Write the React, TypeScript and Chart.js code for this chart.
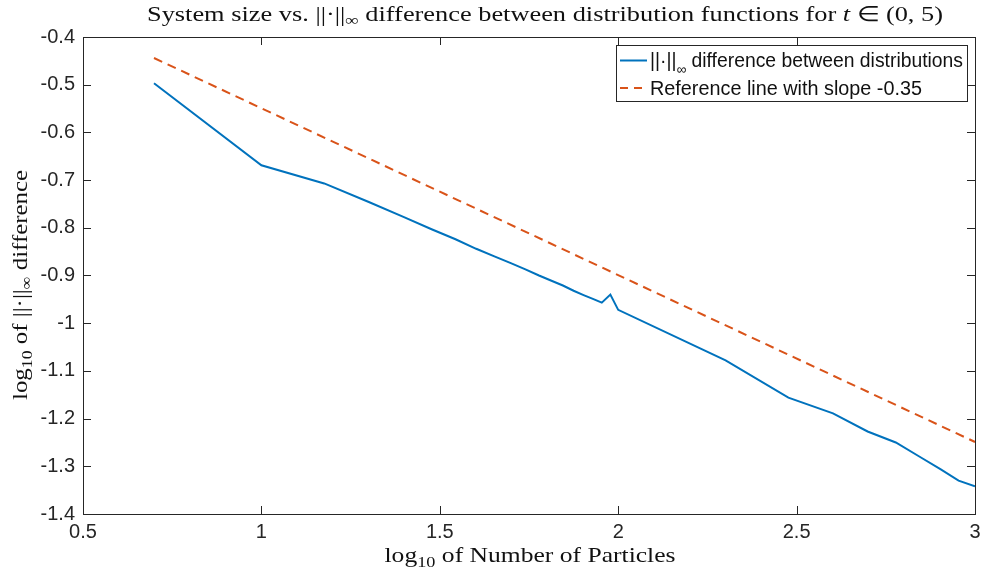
import React, { useEffect, useRef } from "react";
import { Chart, registerables } from "chart.js";

Chart.register(...registerables);

// log10 of number of particles (N = 5..100 step 5, then 200..1000 step 100)
const particleLog10 = [0.699, 1, 1.176, 1.301, 1.398, 1.477, 1.544, 1.602, 1.653, 1.699, 1.74, 1.778, 1.813, 1.845, 1.875, 1.903, 1.929, 1.954, 1.978, 2, 2.301, 2.477, 2.602, 2.699, 2.778, 2.845, 2.903, 2.954, 3];
const diffLog10 = [-0.497, -0.669, -0.707, -0.746, -0.777, -0.803, -0.824, -0.844, -0.86, -0.874, -0.887, -0.9, -0.911, -0.921, -0.932, -0.941, -0.949, -0.957, -0.94, -0.972, -1.078, -1.156, -1.189, -1.227, -1.25, -1.28, -1.306, -1.33, -1.342];
const refX = [0.699, 3];
const refY = [-0.444, -1.249];

const xMin = 0.5, xMax = 3, xStep = 0.5;
const yMin = -1.4, yMax = -0.4, yStep = 0.1;

const titleParts = ["System size vs. ", "||·||", "∞", " difference between distribution functions for ", "t", " ∈ (0, 5)"];
const xTitleParts = ["log", "10", " of Number of Particles"];
const yTitleParts = ["log", "10", " of ||·||", "∞", " difference"];
const legendParts1 = ["||·||", "∞", " difference between distributions"];
const legendLabel2 = "Reference line with slope -0.35";

const BLUE = "#0072BD";
const ORANGE = "#D95319";
const AXIS = "#262626";

type Seg = { t: string; font: string; dy: number };

function drawRich(
  ctx: CanvasRenderingContext2D,
  segs: Seg[],
  x: number,
  y: number,
  align: "center" | "left",
  targetWidth?: number
) {
  let total = 0;
  const widths = segs.map((s) => {
    ctx.font = s.font;
    const w = ctx.measureText(s.t).width;
    total += w;
    return w;
  });
  const sx = targetWidth ? targetWidth / total : 1;
  const drawn = total * sx;
  const startX = align === "center" ? x - drawn / 2 : x;
  ctx.save();
  ctx.translate(startX, y);
  ctx.scale(sx, 1);
  ctx.textBaseline = "alphabetic";
  ctx.textAlign = "left";
  let cx = 0;
  segs.forEach((s, i) => {
    ctx.font = s.font;
    ctx.fillText(s.t, cx, s.dy);
    cx += widths[i];
  });
  ctx.restore();
}

export default function App() {
  const ref = useRef<HTMLCanvasElement>(null);
  useEffect(() => {
    document.body.style.margin = "0";
    const canvas = ref.current!;
    const serif = (sz: number, it = false) => `${it ? "italic " : ""}${sz}px "Liberation Serif"`;
    const sans = (sz: number) => `${sz}px "Liberation Sans"`;

    const decor = {
      id: "decor",
      afterDraw(chart: any) {
        const ctx: CanvasRenderingContext2D = chart.ctx;
        const { left, right, top, bottom } = chart.chartArea;
        const xs = chart.scales.x;
        const ys = chart.scales.y;
        ctx.save();
        ctx.strokeStyle = AXIS;
        ctx.lineWidth = 1;
        ctx.beginPath();
        const tl = 8;
        xs.ticks.forEach((t: any) => {
          const px = Math.round(xs.getPixelForValue(t.value)) + 0.5;
          ctx.moveTo(px, bottom);
          ctx.lineTo(px, bottom - tl);
          ctx.moveTo(px, top);
          ctx.lineTo(px, top + tl);
        });
        ys.ticks.forEach((t: any) => {
          const py = Math.round(ys.getPixelForValue(t.value)) + 0.5;
          ctx.moveTo(left, py);
          ctx.lineTo(left + tl, py);
          ctx.moveTo(right, py);
          ctx.lineTo(right - tl, py);
        });
        ctx.stroke();
        ctx.strokeRect(Math.round(left) + 0.5, Math.round(top) + 0.5, Math.round(right - left), Math.round(bottom - top));

        ctx.fillStyle = "#111";
        // title
        drawRich(ctx, [
          { t: titleParts[0], font: serif(21), dy: 0 },
          { t: titleParts[1], font: serif(21), dy: 0 },
          { t: titleParts[2], font: serif(15), dy: 4 },
          { t: titleParts[3], font: serif(21), dy: 0 },
          { t: titleParts[4], font: serif(21, true), dy: 0 },
          { t: titleParts[5], font: serif(21), dy: 0 },
        ], 545, 21, "center", 796);

        // x title
        drawRich(ctx, [
          { t: xTitleParts[0], font: serif(21), dy: 0 },
          { t: xTitleParts[1], font: serif(15), dy: 5 },
          { t: xTitleParts[2], font: serif(21), dy: 0 },
        ], 530, 562, "center", 291);

        // y title
        ctx.save();
        ctx.translate(27, 285);
        ctx.rotate(-Math.PI / 2);
        drawRich(ctx, [
          { t: yTitleParts[0], font: serif(21), dy: 0 },
          { t: yTitleParts[1], font: serif(15), dy: 5 },
          { t: yTitleParts[2], font: serif(21), dy: 0 },
          { t: yTitleParts[3], font: serif(15), dy: 4 },
          { t: yTitleParts[4], font: serif(21), dy: 0 },
        ], 0, 0, "center", 230);
        ctx.restore();

        // legend
        const bx = 616, by = 45, bw = 351, bh = 56;
        ctx.fillStyle = "#fff";
        ctx.fillRect(bx, by, bw, bh);
        ctx.strokeStyle = AXIS;
        ctx.lineWidth = 1;
        ctx.strokeRect(bx + 0.5, by + 0.5, bw, bh);
        ctx.lineWidth = 2;
        ctx.strokeStyle = BLUE;
        ctx.beginPath();
        ctx.moveTo(620, 60.5);
        ctx.lineTo(647, 60.5);
        ctx.stroke();
        ctx.strokeStyle = ORANGE;
        ctx.setLineDash([8, 6]);
        ctx.beginPath();
        ctx.moveTo(620, 88);
        ctx.lineTo(647, 88);
        ctx.stroke();
        ctx.setLineDash([]);
        ctx.fillStyle = "#111";
        drawRich(ctx, [
          { t: legendParts1[0], font: sans(20), dy: 0 },
          { t: legendParts1[1], font: sans(14), dy: 7 },
          { t: legendParts1[2], font: sans(20), dy: 0 },
        ], 650, 67, "left", 313);
        drawRich(ctx, [{ t: legendLabel2, font: sans(20), dy: 0 }], 650, 95, "left", 272);
        ctx.restore();
      },
    };

    const chart = new Chart(canvas, {
      type: "line",
      data: {
        datasets: [
          {
            label: "diff",
            data: particleLog10.map((x, i) => ({ x, y: diffLog10[i] })),
            borderColor: BLUE,
            borderWidth: 2,
            pointRadius: 0,
            tension: 0,
            fill: false,
          },
          {
            label: "ref",
            data: refX.map((x, i) => ({ x, y: refY[i] })),
            borderColor: ORANGE,
            borderWidth: 2,
            borderDash: [9, 6],
            pointRadius: 0,
            tension: 0,
            fill: false,
          },
        ],
      },
      options: {
        responsive: false,
        animation: false,
        devicePixelRatio: 1,
        layout: { padding: { top: 37, right: 7, left: 0, bottom: 0 } },
        plugins: { legend: { display: false }, title: { display: false }, tooltip: { enabled: false } },
        scales: {
          x: {
            type: "linear",
            min: xMin,
            max: xMax,
            afterFit: (s: any) => { s.height = 61; s.paddingRight = 0; s.paddingLeft = 0; },
            ticks: {
              stepSize: xStep,
              padding: 6,
              color: AXIS,
              font: { family: "Liberation Sans", size: 20 },
              maxRotation: 0,
              callback: (v: any) => String(Number(Number(v).toFixed(2))),
            },
            grid: { display: false, drawTicks: false },
            border: { display: false },
          },
          y: {
            type: "linear",
            min: yMin,
            max: yMax,
            afterFit: (s: any) => { s.width = 83; s.paddingTop = 0; s.paddingBottom = 0; },
            ticks: {
              stepSize: yStep,
              padding: 8,
              color: AXIS,
              font: { family: "Liberation Sans", size: 20 },
              callback: (v: any) => String(Number(Number(v).toFixed(2))),
            },
            grid: { display: false, drawTicks: false },
            border: { display: false },
          },
        },
      },
      plugins: [decor],
    } as any);
    return () => chart.destroy();
  }, []);
  return (
    <div style={{ width: 982, height: 575, background: "#fff" }}>
      <canvas ref={ref} width={982} height={575} style={{ display: "block" }} />
    </div>
  );
}
